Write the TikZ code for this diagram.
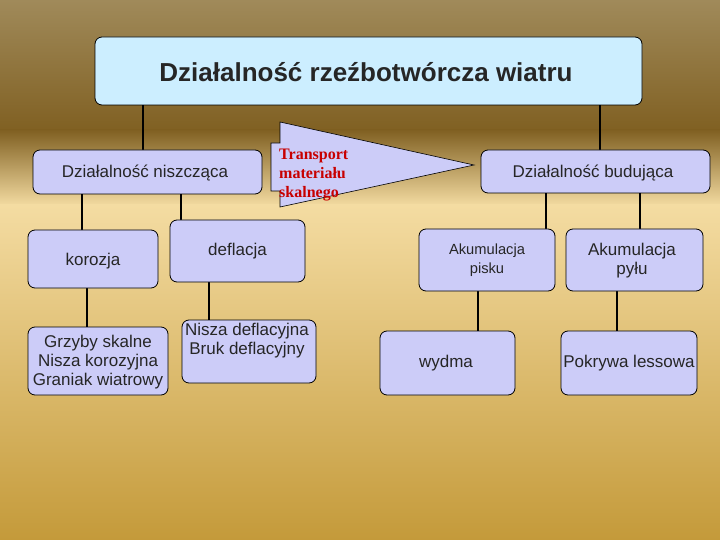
\documentclass[tikz,border=0pt]{standalone}
\usepackage{fontspec}
\setmainfont{Liberation Sans}
\newfontfamily\serifb{Liberation Serif}
\begin{document}
\begin{tikzpicture}[x=1pt,y=-1pt,
  bx/.style={draw=black,fill=lav,rounded corners=7pt,line width=0.8pt},
  ln/.style={line width=2.4pt,black},
  lbl/.style={font=\fontsize{17}{19}\selectfont,align=center,text=black!85}]
\definecolor{lav}{HTML}{CCCCF8}
\definecolor{topc}{HTML}{CCEEFF}
\useasboundingbox (0,0) rectangle (720,540);
\shade[top color={rgb,255:red,160;green,138;blue,90}, bottom color={rgb,255:red,128;green,96;blue,34}] (0,0) rectangle (720,131);
\shade[top color={rgb,255:red,128;green,96;blue,34}, bottom color={rgb,255:red,244;green,220;blue,162}] (0,130) rectangle (720,206);
\shade[top color={rgb,255:red,244;green,220;blue,162}, bottom color={rgb,255:red,196;green,154;blue,58}] (0,205) rectangle (720,540);
% connectors
\draw[ln] (143,100) -- (143,152);
\draw[ln] (600,100) -- (600,152);
\draw[ln] (82,190) -- (82,232);
\draw[ln] (181,190) -- (181,222);
\draw[ln] (87,286) -- (87,329);
\draw[ln] (209,280) -- (209,322);
\draw[ln] (546,190) -- (546,236) -- (515,236);
\draw[ln] (640,190) -- (640,232) -- (690,232);
\draw[ln] (478,285) -- (478,333);
\draw[ln] (617,285) -- (617,333);
% boxes
\node[bx,fill=topc,minimum width=547,minimum height=68] (top) at (368.5,71) {};
\node[font=\fontsize{26}{28}\selectfont\bfseries,text=black!85] at (366,72) {Działalność rzeźbotwórcza wiatru};
\node[bx,minimum width=229,minimum height=44] (nisz) at (147.5,172) {};
\node[lbl] at (145,173) {Działalność niszcząca};
\node[bx,minimum width=229,minimum height=43] (bud) at (595.5,171.5) {};
\node[lbl] at (593,173) {Działalność budująca};
\node[bx,minimum width=130,minimum height=58] (kor) at (93,259) {};
\node[lbl] at (93,261) {korozja};
\node[bx,minimum width=135,minimum height=62] (def) at (237.5,251) {};
\node[lbl] at (237.5,251) {deflacja};
\node[bx,minimum width=140,minimum height=68] (grz) at (98,361) {};
\node[lbl] at (98,362) {Grzyby skalne\\Nisza korozyjna\\Graniak wiatrowy};
\node[bx,minimum width=134,minimum height=63] (nd) at (249,351.5) {};
\node[lbl] at (247,341) {Nisza deflacyjna\\Bruk deflacyjny};
\node[bx,minimum width=136,minimum height=62] (ap) at (487,260) {};
\node[lbl,font=\fontsize{14.7}{19}\selectfont] at (487,260) {Akumulacja\\pisku};
\node[bx,minimum width=137,minimum height=62] (ay) at (634.5,260) {};
\node[lbl] at (632,261) {Akumulacja\\pyłu};
\node[bx,minimum width=135,minimum height=64] (wy) at (447.5,363) {};
\node[lbl] at (446,363) {wydma};
\node[bx,minimum width=136,minimum height=64] (pk) at (629,363) {};
\node[lbl] at (629,363) {Pokrywa lessowa};
% arrow
\draw[fill=lav,line width=0.6pt] (280,122) -- (474,165) -- (280,207) -- (280,191) -- (271,191) -- (271,143) -- (280,143) -- cycle;
\node[font=\serifb\fontsize{16}{19}\selectfont\bfseries,text={rgb,255:red,200;green,0;blue,0},align=left,anchor=north west,inner sep=0] (tr) at (279,149) {Transport\\materiału\\skalnego};
\end{tikzpicture}
\end{document}
